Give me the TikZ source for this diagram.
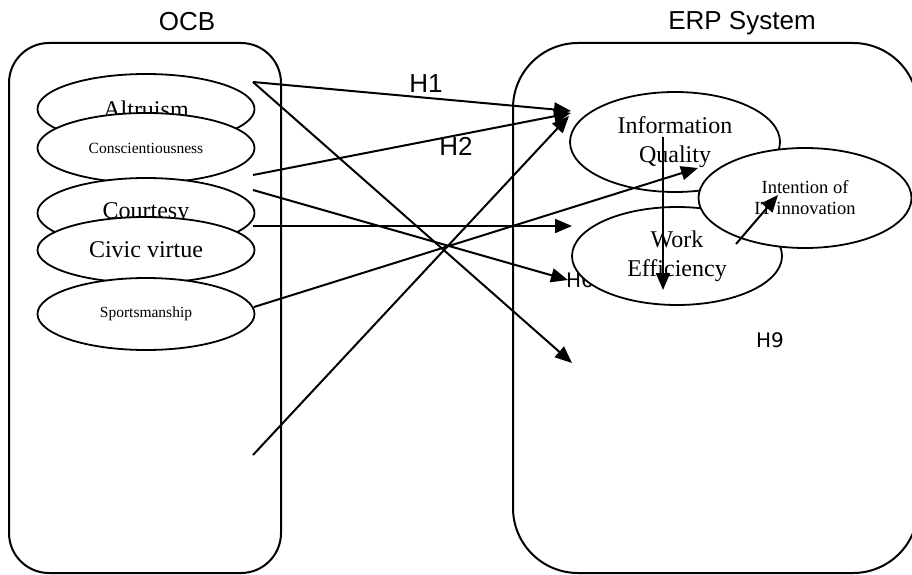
\documentclass[tikz,border=0pt]{standalone}
\usepackage{fontspec}
\setmainfont{Liberation Serif}
\newfontfamily\headfont{Liberation Sans}
\newfontfamily\hypfont{DejaVu Sans}
\usetikzlibrary{shapes.geometric, arrows.meta}

\begin{document}
\begin{tikzpicture}[x=1pt, y=-1pt,
    panel/.style={draw, line width=2pt},
    construct/.style={ellipse, draw, line width=1.8pt, fill=white, minimum width=217pt, minimum height=70pt, inner sep=0pt, align=center, font=\fontsize{24}{29}\selectfont},
    smallconstruct/.style={construct, font=\fontsize{15.5}{19}\selectfont},
    head/.style={inner sep=0pt, font=\headfont\fontsize{26}{30}\selectfont},
    hyp/.style={inner sep=0pt, font=\hypfont\fontsize{20}{24}\selectfont},
    arrow/.style={-{Triangle[length=17pt,width=14pt]}, line width=2pt}
]
\useasboundingbox (0,0) rectangle (912,575);
\clip (0,0) rectangle (912,575);

% the two groups
\draw[panel, rounded corners=40pt] (9,43) rectangle (281,573);
\draw[panel, rounded corners=65pt] (513,43) rectangle (918,573);
\node[head] (ocb) at (187,22) {OCB};
\node[head] (erp) at (742,23) {ERP System};

% hypothesis labels
\node[head] (h1) at (426,84) {H1};
\node[head] (h2) at (456,146) {H2};
\node[hyp, anchor=west] (h6) at (566,280) {H6};
\node[hyp] (h9) at (770,340) {H9};

% OCB dimensions
\node[construct] (altruism) at (146,109) {Altruism};
\node[smallconstruct] (consc) at (146,148) {Conscientiousness};
\node[construct] (courtesy) at (146,213) {Courtesy};
\node[construct, minimum height=66pt] (civic) at (146,250) {Civic virtue};
\node[smallconstruct, minimum height=72pt] (sport) at (146,314) {Sportsmanship};

% ERP constructs
\node[construct, minimum width=210pt, minimum height=100pt] (infoq) at (675,142) {Information\\Quality};
\node[construct, minimum width=210pt, minimum height=98pt] (workeff) at (677,256) {Work\\Efficiency};
\node[construct, minimum width=213pt, minimum height=100pt, font=\fontsize{18.5}{21}\selectfont] (intent) at (805,198) {Intention of\\IT innovation};

% connector ends
\coordinate (altOut) at (253,82);
\coordinate (conscOut) at (253,175);
\coordinate (courtOut) at (253,190);
\coordinate (civicOut) at (253,226);
\coordinate (sportOut) at (254,307);
\coordinate (lowOut) at (253,455);
\coordinate (iqIn) at (571,111);
\coordinate (iqInB) at (571,113);
\coordinate (iqInC) at (569,116);
\coordinate (weIn) at (568,280);
\coordinate (midIn) at (572,226);
\coordinate (lowIn) at (572,363);
\coordinate (iqTop) at (663,137);
\coordinate (weLow) at (663,290);
\coordinate (weOut) at (736,244);
\coordinate (itIn) at (778,195);

\draw[arrow] (altOut) -- (iqIn);
\draw[arrow] (altOut) -- (lowIn);
\draw[arrow] (conscOut) -- (iqInB);
\draw[arrow] (courtOut) -- (weIn);
\draw[arrow] (civicOut) -- (midIn);
\draw[arrow] (sportOut) -- (698,168);
\draw[arrow] (lowOut) -- (iqInC);
\draw[arrow] (iqTop) -- (weLow);
\draw[arrow] (weOut) -- (itIn);
\end{tikzpicture}
\end{document}
